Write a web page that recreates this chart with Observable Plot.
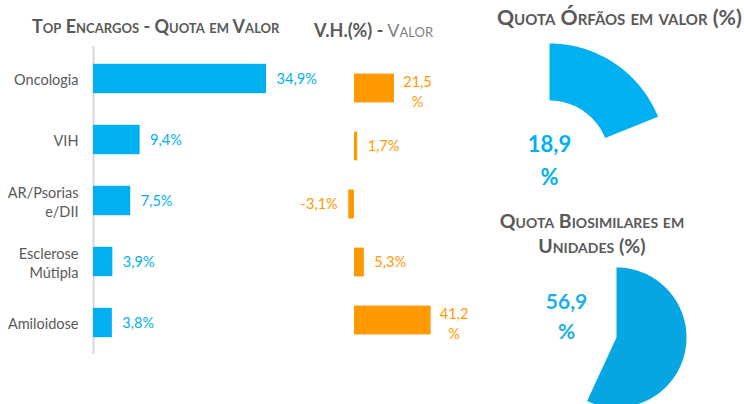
<!DOCTYPE html>
<html><head><meta charset="utf-8">
<script src="https://cdn.jsdelivr.net/npm/d3@7"></script>
<script src="https://cdn.jsdelivr.net/npm/@observablehq/plot@0.6"></script>
<style>
html,body{margin:0;padding:0;overflow:hidden;background:#fff;}
#wrap{position:relative;width:744px;height:404px;font-family:Lato,"Open Sans",sans-serif;overflow:hidden;}
#wrap svg{position:absolute;left:0;top:0;}
.t{position:absolute;font-weight:bold;font-variant:small-caps;color:#595959;white-space:nowrap;}
</style></head><body><div id="wrap"></div>
<script>
// ---- data ----
const categories = ["Oncologia", "VIH", "AR/Psorias\ne/DII", "Esclerose\nMútipla", "Amiloidose"];
const shareValues = [34.9, 9.4, 7.5, 3.9, 3.8];          // Quota em Valor (%)
const growthValues = [21.5, 1.7, -3.1, 5.3, 41.2];       // V.H. (%)
const growthLabelWrapped = [true, false, false, false, true];
const orphanShare = 18.9;       // Quota Órfãos em valor (%)
const biosimilarShare = 56.9;   // Quota Biosimilares em Unidades (%)
const titleLeft = "Top Encargos - Quota em Valor";
const titleMidBold = "V.H.(%) -";
const titleMidLight = " Valor";
const titleOrphan = "Quota Órfãos em valor (%)";
const titleBiosim = ["Quota Biosimilares em", "Unidades (%)"];

// ---- helpers ----
const fmt = d3.formatLocale({decimal: ",", thousands: ".", grouping: [3], currency: ["", "€"], minus: "-"}).format(".1f");
const BLUE = "#00B0F0", ORANGE = "#FF9900", GREY = "#595959";
const wrap = document.getElementById("wrap");
const rows = categories.map((c, i) => ({cat: c, share: shareValues[i], growth: growthValues[i], wrapped: growthLabelWrapped[i]}));
const base = {width: 744, height: 404, style: {background: "transparent", fontFamily: "Lato, 'Open Sans', sans-serif", overflow: "visible"}};

// ---- blue bars ----
wrap.append(Plot.plot({
  ...base,
  marginTop: 46, marginBottom: 50, marginLeft: 0, marginRight: 0,
  x: {domain: [0, 50], range: [93, 341], axis: null},
  y: {domain: categories, axis: null, padding: 0},
  marks: [
    Plot.ruleX([0], {stroke: "#d9d9d9", strokeWidth: 2}),
    Plot.barX(rows, {x: "share", y: "cat", fill: BLUE, insetTop: 15.8, insetBottom: 15.8}),
    Plot.text(rows, {x: 0, y: "cat", text: "cat", textAnchor: "end", dx: -15, fill: GREY, fontSize: 14.5, lineHeight: 1.33}),
    Plot.text(rows, {x: "share", y: "cat", text: d => fmt(d.share) + "%", textAnchor: "start", dx: 10, fill: BLUE, fontSize: 14.5})
  ]
}));

// ---- orange bars ----
wrap.append(Plot.plot({
  ...base,
  marginTop: 57.9, marginBottom: 54.9, marginLeft: 0, marginRight: 0,
  x: {domain: [0, 50], range: [354, 447], axis: null},
  y: {domain: categories, axis: null, padding: 0},
  marks: [
    Plot.barX(rows, {x: "growth", y: "cat", fill: ORANGE, insetTop: 14.6, insetBottom: 14.6}),
    Plot.text(rows.filter(d => d.wrapped), {x: "growth", y: "cat", text: d => fmt(d.growth) + "\n%", textAnchor: "middle", dx: 23, dy: 2, lineHeight: 1.4, fill: ORANGE, fontSize: 14.5}),
    Plot.text(rows.filter(d => !d.wrapped && d.growth >= 0), {x: "growth", y: "cat", text: d => fmt(d.growth) + "%", textAnchor: "start", dx: 10, fill: ORANGE, fontSize: 14.5}),
    Plot.text(rows.filter(d => !d.wrapped && d.growth < 0), {x: "growth", y: "cat", text: d => fmt(d.growth) + "%", textAnchor: "end", dx: -11, fill: ORANGE, fontSize: 14.5})
  ]
}));

// ---- pie helpers (unit-circle geometry from the share value) ----
function slicePoints(share, inner) {
  const end = share / 100 * 2 * Math.PI, n = 120, pts = [];
  for (let k = 0; k <= n; k++) { const a = end * k / n; pts.push({x: Math.sin(a), y: Math.cos(a)}); }
  if (inner > 0) {
    for (let k = n; k >= 0; k--) { const a = end * k / n; pts.push({x: inner * Math.sin(a), y: inner * Math.cos(a)}); }
  } else pts.push({x: 0, y: 0});
  pts.push(pts[0]);
  return pts;
}

// ---- orphan donut ----
{
  const cx = 549, cy = 160, R = 117;
  wrap.append(Plot.plot({
    ...base, margin: 0,
    x: {domain: [-1, 1], range: [cx - R, cx + R], axis: null},
    y: {domain: [-1, 1], range: [cy + R, cy - R], axis: null},
    marks: [
      Plot.line(slicePoints(orphanShare, 60 / 117), {x: "x", y: "y", fill: BLUE, stroke: "none"}),
      Plot.text([orphanShare], {x: 0, y: 0, text: d => fmt(d) + "\n%", dy: -3, fontSize: 22, fontWeight: "bold", fill: BLUE, lineHeight: 1.5})
    ]
  }));
}

// ---- biosimilar pie ----
{
  const cx = 616, cy = 337, R = 70;
  wrap.append(Plot.plot({
    ...base, margin: 0,
    x: {domain: [-1, 1], range: [cx - R, cx + R], axis: null},
    y: {domain: [-1, 1], range: [cy + R, cy - R], axis: null},
    marks: [
      Plot.line(slicePoints(biosimilarShare, 0), {x: "x", y: "y", fill: "#07A6E2", stroke: "none"}),
      Plot.text([biosimilarShare], {x: 0, y: 0, text: d => fmt(d) + "\n%", dx: -50, dy: -23, fontSize: 21, fontWeight: "bold", fill: "#1AAEEB", lineHeight: 1.4})
    ]
  }));
}

// ---- titles ----
function addTitle(html, css) {
  const d = document.createElement("div");
  d.className = "t"; d.innerHTML = html; Object.assign(d.style, css); wrap.append(d);
}
addTitle(titleLeft, {left: "32px", top: "15px", fontSize: "18px", lineHeight: "22px"});
addTitle(`<span>${titleMidBold}</span><span style="font-weight:normal;color:#7f7f7f">${titleMidLight}</span>`, {left: "314px", top: "19px", fontSize: "18px", lineHeight: "22px"});
addTitle(titleOrphan, {left: "497px", top: "4px", fontSize: "21.2px", lineHeight: "26px"});
addTitle(titleBiosim.join("<br>"), {left: "492px", width: "200px", textAlign: "center", top: "208px", fontSize: "19.5px", lineHeight: "25px"});
</script></body></html>
